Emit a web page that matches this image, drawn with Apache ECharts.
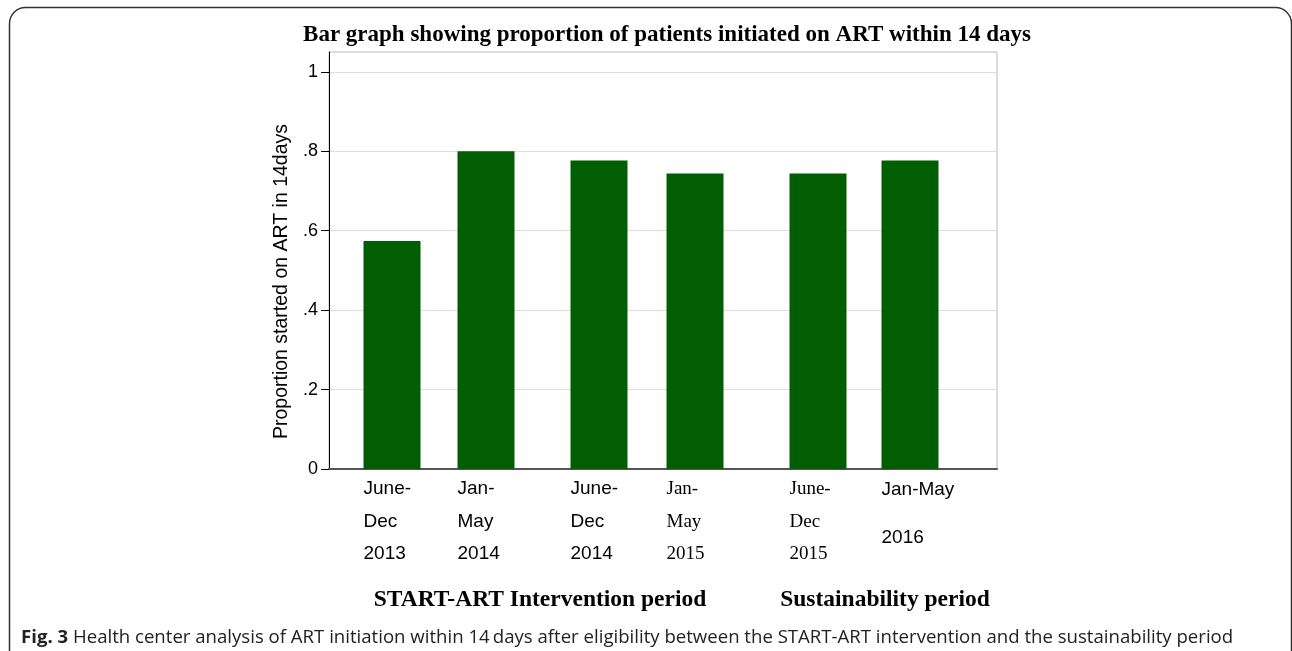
<!DOCTYPE html>
<html>
<head>
<meta charset="utf-8">
<script src="https://cdn.jsdelivr.net/npm/echarts@6/dist/echarts.min.js"></script>
<style>
  html, body { margin: 0; padding: 0; background: #fff; }
  #main { width: 1292px; height: 651px; }
</style>
</head>
<body>
<div id="main"></div>
<script>
// periods (x labels), proportions started on ART within 14 days
var periods = ['June-\nDec\n2013', 'Jan-\nMay\n2014', 'June-\nDec\n2014',
               'Jan-\nMay\n2015', 'June-\nDec\n2015', 'Jan-May\n2016'];
var proportions = [0.574, 0.80, 0.777, 0.744, 0.744, 0.777];
// where each bar sits along the (hidden) x scale, gaps between the periods
var barPos = [63, 157, 270, 366, 489, 581];
var yTicks = [0, 0.2, 0.4, 0.6, 0.8, 1];
var groupNames = ['START-ART Intervention period', 'Sustainability period'];

var chart = echarts.init(document.getElementById('main'));

var serifBars = [3, 4];
var barData = proportions.map(function (v, i) {
  var serif = serifBars.indexOf(i) >= 0;
  var last = i === periods.length - 1;
  return {
    value: [barPos[i], v],
    label: {
      show: true,
      formatter: periods[i],
      position: [0, '100%'],
      offset: last ? [0, -3] : [0, 4],
      align: 'left',
      verticalAlign: 'top',
      color: '#000',
      fontFamily: serif ? 'Liberation Serif' : 'Liberation Sans',
      fontSize: 19,
      lineHeight: last ? 48 : 32.5
    }
  };
});

var boldSerif = { fontFamily: 'Liberation Serif', fontWeight: 'bold', fontSize: 23, color: '#000' };
var boldSerifBig = { fontFamily: 'Liberation Serif', fontWeight: 'bold', fontSize: 23.5, color: '#000' };

var option = {
  animation: false,
  backgroundColor: '#fff',
  title: [
    {
      text: 'Bar graph showing proportion of patients initiated on ART within 14 days',
      left: 662, top: 19, textAlign: 'center',
      textStyle: boldSerif
    },
    {
      text: groupNames[0],
      left: 535, top: 583, textAlign: 'center',
      textStyle: boldSerifBig
    },
    {
      text: groupNames[1],
      left: 880, top: 583, textAlign: 'center',
      textStyle: boldSerifBig
    },
    {
      text: '{b|Fig. 3} Health center analysis of ART initiation within 14\u2009days after eligibility between the START-ART intervention and the sustainability period',
      left: 16, top: 623,
      textStyle: {
        fontFamily: 'Open Sans', fontWeight: 'normal', fontSize: 18.6, color: '#222',
        rich: { b: { fontFamily: 'Open Sans', fontWeight: 'bold', fontSize: 18.6, color: '#222' } }
      }
    }
  ],
  graphic: [
    {
      type: 'rect', z: -10,
      shape: { x: 9.5, y: 7.5, width: 1282, height: 670, r: 16 },
      style: { fill: 'none', stroke: '#333', lineWidth: 1.5 }
    }
  ],
  grid: {
    left: 329, right: 295, top: 52, bottom: 182,
    show: true, borderColor: '#bbb', borderWidth: 1
  },
  xAxis: {
    type: 'value', min: 0, max: 668,
    axisLine: { show: true, onZero: false, lineStyle: { color: '#555', width: 2 } },
    axisTick: { show: false },
    axisLabel: { show: false },
    splitLine: { show: false }
  },
  yAxis: {
    type: 'value', min: 0, max: 1.05,
    name: 'Proportion started on ART in 14days',
    nameLocation: 'middle', nameGap: 36,
    nameTextStyle: { fontFamily: 'Liberation Sans', fontSize: 19.5, color: '#000', padding: [0, 42, 0, 0] },
    axisLine: { show: true, lineStyle: { color: '#000', width: 1 } },
    axisTick: { show: true, length: 8, customValues: yTicks, lineStyle: { color: '#000' } },
    axisLabel: {
      customValues: yTicks, margin: 11,
      fontFamily: 'Liberation Sans', fontSize: 18, color: '#000',
      formatter: function (v) { return v === 0 || v === 1 ? String(v) : String(+v.toFixed(1)).replace(/^0/, ''); }
    },
    splitLine: { show: true, lineStyle: { color: '#ddd', width: 1 } }
  },
  series: [
    {
      type: 'bar',
      barWidth: 57,
      itemStyle: { color: '#025e02' },
      data: barData
    }
  ]
};

chart.setOption(option);
</script>
</body>
</html>
